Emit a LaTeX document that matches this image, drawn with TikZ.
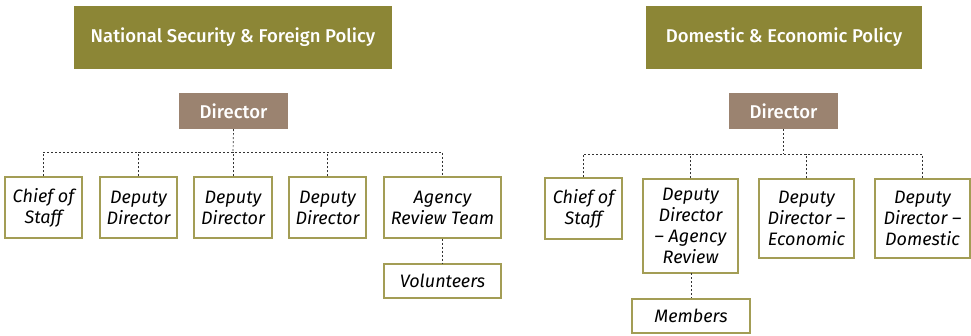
\documentclass[tikz,border=0pt]{standalone}
\usepackage{fontspec}
\setmainfont{Fira Sans}[BoldFont={Fira Sans Medium}]
\definecolor{oliveA}{HTML}{8C8636}
\definecolor{brownA}{HTML}{9B8370}
\definecolor{bordA}{HTML}{A39D55}
\begin{document}
\begin{tikzpicture}[x=1pt,y=-1pt,
  titlebox/.style={fill=oliveA, text=white, inner sep=0pt, font=\bfseries\fontsize{18.5}{20}\selectfont},
  dirbox/.style={fill=brownA, text=white, inner sep=0pt, minimum width=109pt, minimum height=36pt, font=\bfseries\fontsize{18.5}{20}\selectfont},
  unit/.style={draw=bordA, line width=1.3pt, fill=white, align=center, inner sep=0pt, font=\itshape\fontsize{18}{21}\selectfont},
  conn/.style={draw=black!80, dash pattern=on 2pt off 2pt, line width=0.7pt}]
\path[use as bounding box] (0,0) rectangle (971,335);
% left
\node[titlebox, minimum width=318pt, minimum height=63pt] (tL) at (233,37.5) {National Security \& Foreign Policy};
\node[dirbox] (dL) at (233.5,111) {Director};
\node[unit, minimum width=77pt, minimum height=61pt] (l1) at (43.5,207.5) {Chief of\\Staff};
\node[unit, minimum width=77pt, minimum height=61pt] (l2) at (138.5,207.5) {Deputy\\Director};
\node[unit, minimum width=78pt, minimum height=61pt] (l3) at (233,207.5) {Deputy\\Director};
\node[unit, minimum width=77pt, minimum height=61pt] (l4) at (327.5,207.5) {Deputy\\Director};
\node[unit, minimum width=117pt, minimum height=61pt] (l5) at (442.5,207.5) {Agency\\Review Team};
\node[unit, minimum width=117pt, minimum height=34pt] (lv) at (442.5,281) {Volunteers};
\coordinate (bL) at (233,152);
\draw[conn] (dL.south) -- (bL);
\draw[conn] (l1.north) -- (l1.north |- bL) -- (l5.north |- bL) -- (l5.north);
\foreach \n in {l2,l3,l4} \draw[conn] (\n.north) -- (\n.north |- bL);
\draw[conn] (l5.south) -- (lv.north);
% right
\node[titlebox, minimum width=276pt, minimum height=63pt] (tR) at (784,37.5) {Domestic \& Economic Policy};
\node[dirbox] (dR) at (783.5,111) {Director};
\node[unit, minimum width=77pt, minimum height=61pt] (r1) at (583.5,208.5) {Chief of\\Staff};
\node[unit, minimum width=95pt, minimum height=94pt] (r2) at (690.5,226) {Deputy\\Director\\– Agency\\Review};
\node[unit, minimum width=95pt, minimum height=79pt] (r3) at (806.5,218.5) {Deputy\\Director –\\Economic};
\node[unit, minimum width=95pt, minimum height=79pt] (r4) at (922.5,218.5) {Deputy\\Director –\\Domestic};
\node[unit, minimum width=118pt, minimum height=34pt] (rm) at (691,316) {Members};
\coordinate (bR) at (783.5,154);
\draw[conn] (dR.south) -- (bR);
\draw[conn] (r1.north) -- (r1.north |- bR) -- (r4.north |- bR) -- (r4.north);
\foreach \n in {r2,r3} \draw[conn] (\n.north) -- (\n.north |- bR);
\draw[conn] (r2.south) -- (r2.south -| rm.north) -- (rm.north);
\end{tikzpicture}
\end{document}
